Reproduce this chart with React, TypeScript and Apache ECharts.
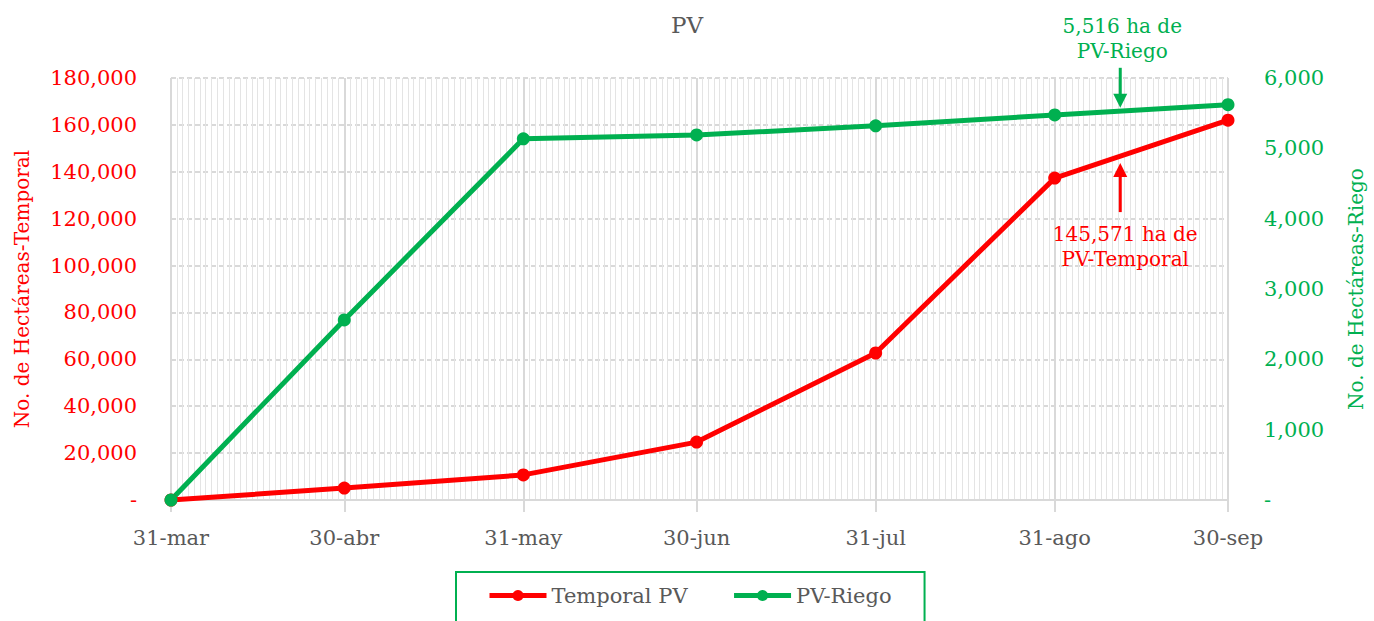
import React, { useEffect, useRef } from "react";
import * as echarts from "echarts";

const monthEndLabels = ["31-mar", "30-abr", "31-may", "30-jun", "31-jul", "31-ago", "30-sep"];
const monthEndDays = [0, 30, 61, 91, 122, 153, 183];
const temporalPV = [0, 5100, 10700, 24700, 62700, 137300, 162000];
const riegoPV = [0, 2560, 5135, 5190, 5320, 5475, 5620];
const leftTicks = { min: 0, max: 180000, interval: 20000 };
const rightTicks = { min: 0, max: 6000, interval: 1000 };
const annotationDay = 164;
const riegoNote = "5,516 ha de\nPV-Riego";
const temporalNote = "145,571 ha de\nPV-Temporal";

const FONT = "DejaVu Serif";
const RED = "#ff0000";
const GREEN = "#00b050";
const GREY = "#595959";

export default function App() {
  const ref = useRef<HTMLDivElement>(null);
  useEffect(() => {
    if (!ref.current) return;
    const chart = echarts.init(ref.current, undefined, { renderer: "svg" });
    const totalDays = monthEndDays[monthEndDays.length - 1];
    const days: string[] = [];
    for (let i = 0; i <= totalDays; i++) {
      const k = monthEndDays.indexOf(i);
      days.push(k >= 0 ? monthEndLabels[k] : "d" + i);
    }
    const isMajor = (i: number) => monthEndDays.indexOf(i) >= 0;
    const seriesData = (vals: number[]) => monthEndDays.map((d, i) => [d, vals[i]]);
    const fmt = (v: number) => (v === 0 ? "-" : v.toLocaleString("en-US"));

    chart.setOption({
      animation: false,
      textStyle: { fontFamily: FONT },
      title: {
        text: "PV",
        left: 666,
        top: 8,
        textStyle: { fontFamily: FONT, fontSize: 23, fontWeight: "normal", color: GREY },
      },
      grid: { left: 171, right: 142, top: 78, bottom: 121, containLabel: false },
      legend: {
        top: 572,
        left: 456,
        padding: [13, 33, 40, 31],
        borderColor: GREEN,
        borderWidth: 2,
        itemWidth: 57,
        itemHeight: 14,
        itemGap: 44,
        lineStyle: { width: 5 },
        textStyle: { fontFamily: FONT, fontSize: 21, color: GREY },
        data: ["Temporal PV", "PV-Riego"],
      },
      xAxis: [
        {
          type: "category",
          data: days,
          boundaryGap: false,
          axisLine: { show: true, lineStyle: { color: "#d9d9d9", width: 2 } },
          axisTick: {
            show: true,
            interval: (i: number) => isMajor(i),
            length: 12,
            lineStyle: { color: "#d9d9d9", width: 2 },
          },
          axisLabel: {
            interval: (i: number) => isMajor(i),
            color: GREY,
            fontFamily: FONT,
            fontSize: 21,
            margin: 27,
          },
          splitLine: {
            show: true,
            interval: (i: number) => isMajor(i),
            lineStyle: { color: "#d9d9d9", width: 2 },
          },
          z: 3,
        },
        {
          type: "category",
          data: days,
          boundaryGap: false,
          position: "bottom",
          axisLine: { show: false },
          axisTick: { show: false },
          axisLabel: { show: false },
          splitLine: { show: true, interval: 0, lineStyle: { color: "#e4e4e4", width: 1 } },
          z: 1,
        },
      ],
      yAxis: [
        {
          type: "value",
          min: leftTicks.min,
          max: leftTicks.max,
          interval: leftTicks.interval,
          name: "No. de Hectáreas-Temporal",
          nameLocation: "middle",
          nameRotate: 90,
          nameGap: 139,
          nameTextStyle: { color: RED, fontFamily: FONT, fontSize: 20 },
          axisLine: { show: false },
          axisTick: { show: false },
          axisLabel: { color: RED, fontFamily: FONT, fontSize: 21, margin: 34, formatter: fmt },
          splitLine: { show: true, lineStyle: { color: "#d9d9d9", width: 2, type: [5, 3] } },
        },
        {
          type: "value",
          min: rightTicks.min,
          max: rightTicks.max,
          interval: rightTicks.interval,
          name: "No. de Hectáreas-Riego",
          nameLocation: "middle",
          nameRotate: 90,
          nameGap: 118,
          nameTextStyle: { color: GREEN, fontFamily: FONT, fontSize: 20 },
          axisLine: { show: false },
          axisTick: { show: false },
          axisLabel: { color: GREEN, fontFamily: FONT, fontSize: 21, margin: 36, formatter: fmt },
          splitLine: { show: false },
        },
      ],
      series: [
        {
          name: "Temporal PV",
          type: "line",
          xAxisIndex: 0,
          yAxisIndex: 0,
          data: seriesData(temporalPV),
          symbol: "circle",
          symbolSize: 13,
          lineStyle: { color: RED, width: 5 },
          itemStyle: { color: RED },
          z: 5,
        },
        {
          name: "PV-Riego",
          type: "line",
          xAxisIndex: 0,
          yAxisIndex: 1,
          data: seriesData(riegoPV),
          symbol: "circle",
          symbolSize: 13,
          lineStyle: { color: GREEN, width: 5 },
          itemStyle: { color: GREEN },
          z: 5,
        },
      ],
    });

    // annotations placed from axis scales
    const gTop = chart.convertToPixel({ xAxisIndex: 0, yAxisIndex: 1 }, [annotationDay, 6145]);
    const gTip = chart.convertToPixel({ xAxisIndex: 0, yAxisIndex: 1 }, [annotationDay, 5576]);
    const rTip = chart.convertToPixel({ xAxisIndex: 0, yAxisIndex: 0 }, [annotationDay, 143700]);
    const rBot = chart.convertToPixel({ xAxisIndex: 0, yAxisIndex: 0 }, [annotationDay, 122800]);
    const ax = gTop[0] + 2;
    const noteStyle = (text: string, fill: string, va: string) => ({
      text,
      fill,
      stroke: "none",
      lineWidth: 0,
      fontFamily: FONT,
      fontSize: 20,
      align: "center",
      verticalAlign: va,
      lineHeight: 25,
    });
    chart.setOption({
      graphic: [
        {
          type: "text",
          x: ax + 2,
          y: gTop[1] - 4,
          z: 100,
          style: noteStyle(riegoNote, GREEN, "bottom"),
        },
        {
          type: "rect",
          z: 100,
          shape: { x: ax - 1.5, y: gTop[1], width: 3, height: gTip[1] - 12 - gTop[1] },
          style: { fill: GREEN, stroke: "none" },
        },
        {
          type: "polygon",
          z: 100,
          shape: { points: [[ax - 7, gTip[1] - 14], [ax + 7, gTip[1] - 14], [ax, gTip[1]]] },
          style: { fill: GREEN, stroke: "none" },
        },
        {
          type: "polygon",
          z: 100,
          shape: { points: [[ax - 7, rTip[1] + 14], [ax + 7, rTip[1] + 14], [ax, rTip[1]]] },
          style: { fill: RED, stroke: "none" },
        },
        {
          type: "rect",
          z: 100,
          shape: { x: ax - 1.5, y: rTip[1] + 12, width: 3, height: rBot[1] - rTip[1] - 12 },
          style: { fill: RED, stroke: "none" },
        },
        {
          type: "text",
          x: ax + 5,
          y: rBot[1] + 9,
          z: 100,
          style: noteStyle(temporalNote, RED, "top"),
        },
      ],
    });

    return () => chart.dispose();
  }, []);

  return <div ref={ref} style={{ width: 1374, height: 621, position: "absolute", left: 0, top: 0 }} />;
}
